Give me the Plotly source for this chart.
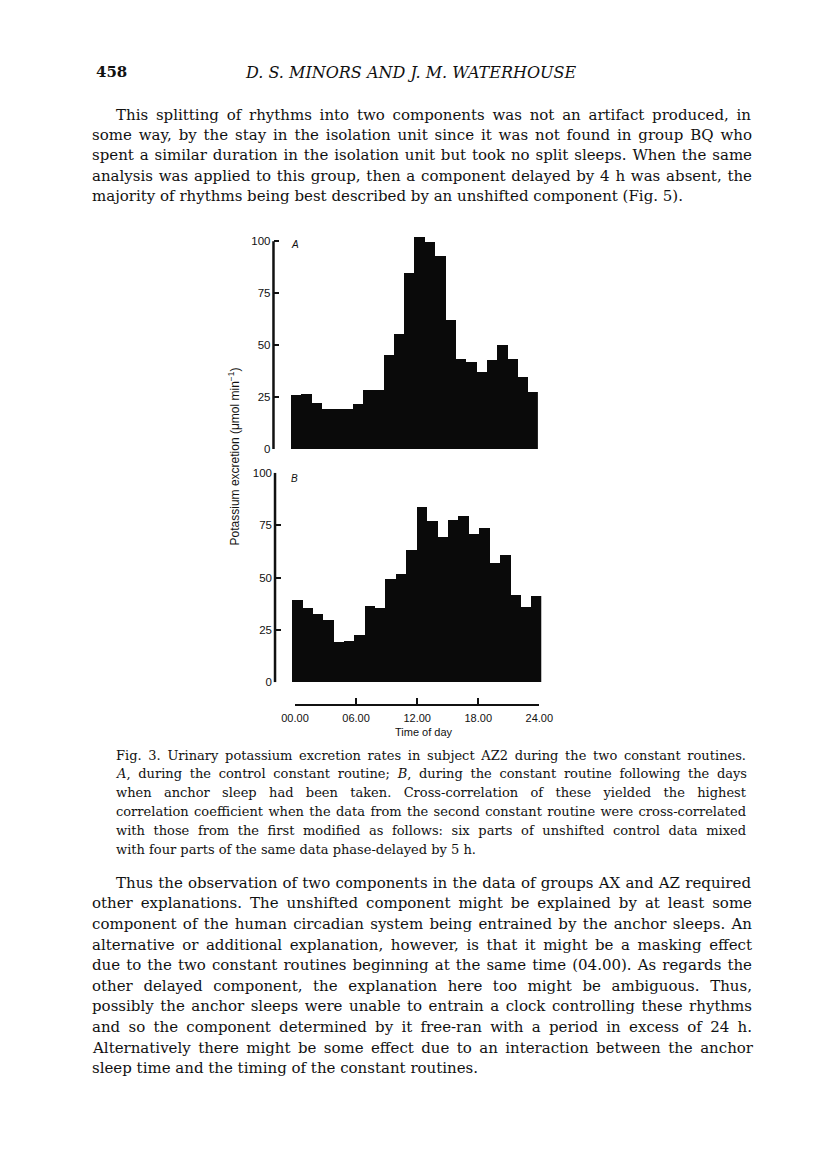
import json
import plotly.graph_objects as go

W, H = 816, 1160

# hourly samples over the constant routine
HOURS = [0, 1, 2, 3, 4, 5, 6, 7, 8, 9, 10, 11,
         12, 13, 14, 15, 16, 17, 18, 19, 20, 21, 22, 23]
EXCRETION_A = [26.2, 26.7, 22.4, 19.3, 19.2, 19.4, 21.8, 28.6, 28.6, 45.1, 55.4, 84.9,
               102.0, 99.8, 92.9, 62.2, 43.5, 41.9, 37.1, 43.0, 50.0, 43.6, 34.9, 27.5]
EXCRETION_B = [39.4, 35.6, 32.8, 29.9, 19.2, 19.8, 22.7, 36.5, 35.4, 49.4, 52.0, 63.0,
               83.9, 76.9, 69.4, 77.5, 79.5, 71.0, 73.5, 57.0, 61.0, 41.7, 36.2, 41.3]
Y_TICKS = [0, 25, 50, 75, 100]
TIME_TICKS = [0, 6, 12, 18, 24]
TIME_LABELS = ["00.00", "06.00", "12.00", "18.00", "24.00"]

PAGE_NO = "458"
RUNNING_HEAD = "D. S. MINORS AND J. M. WATERHOUSE"
PARA_1 = [
    "This splitting of rhythms into two components was not an artifact produced, in",
    "some way, by the stay in the isolation unit since it was not found in group BQ who",
    "spent a similar duration in the isolation unit but took no split sleeps. When the same",
    "analysis was applied to this group, then a component delayed by 4 h was absent, the",
    "majority of rhythms being best described by an unshifted component (Fig. 5).",
]
CAPTION = [
    "Fig. 3. Urinary potassium excretion rates in subject AZ2 during the two constant routines.",
    "<i>A</i>, during the control constant routine; <i>B</i>, during the constant routine following the days",
    "when anchor sleep had been taken. Cross-correlation of these yielded the highest",
    "correlation coefficient when the data from the second constant routine were cross-correlated",
    "with those from the first modified as follows: six parts of unshifted control data mixed",
    "with four parts of the same data phase-delayed by 5 h.",
]
PARA_2 = [
    "Thus the observation of two components in the data of groups AX and AZ required",
    "other explanations. The unshifted component might be explained by at least some",
    "component of the human circadian system being entrained by the anchor sleeps. An",
    "alternative or additional explanation, however, is that it might be a masking effect",
    "due to the two constant routines beginning at the same time (04.00). As regards the",
    "other delayed component, the explanation here too might be ambiguous. Thus,",
    "possibly the anchor sleeps were unable to entrain a clock controlling these rhythms",
    "and so the component determined by it free-ran with a period in excess of 24 h.",
    "Alternatively there might be some effect due to an interaction between the anchor",
    "sleep time and the timing of the constant routines.",
]

SERIF = "DejaVu Serif"
SANS = "Liberation Sans"
INK = "#111111"


def fx(x):
    return x / W


def fy(y):
    return 1 - y / H


annotations = []
justify = []  # [annotation index, target width in px]


def add_text(text, x, y, size, family=SERIF, xanchor="left", width=None, **kw):
    if width:
        justify.append([len(annotations), width])
    annotations.append(dict(
        text=text, x=fx(x), y=fy(y), xref="paper", yref="paper",
        xanchor=xanchor, yanchor="middle", align="left", showarrow=False,
        borderpad=0, font=dict(family=family, size=size, color=INK), **kw))


def add_paragraph(lines, top, step, size, left, right, indent):
    for i, line in enumerate(lines):
        x0 = left + (indent if i == 0 else 0)
        last = i == len(lines) - 1
        add_text(line, x0, top + i * step, size, width=None if last else right - x0)


add_text("<b>" + PAGE_NO + "</b>", 84, 67, 15)
add_text("<i>" + RUNNING_HEAD + "</i>", 411, 67, 16, xanchor="center")
add_paragraph(PARA_1, 110, 20.5, 15, 80, 740, 25)
add_paragraph(CAPTION, 757, 19, 13, 105, 735, 0)
add_paragraph(PARA_2, 886, 20.8, 15, 80, 740, 25)

# chart texts
add_text("<i>A</i>", 286, 241, 10, family=SANS)
add_text("<i>B</i>", 286, 477, 10, family=SANS)
add_text("Potassium excretion (\u03bcmol min<sup>\u22121</sup>)", 228, 455, 12,
         family=SANS, xanchor="center", textangle=-90)
add_text("Time of day", 425, 734, 11, family=SANS, xanchor="center")

A_ZERO, B_ZERO, PX_A, PX_B = 447.7, 683.3, 2.1, 2.116
A_TOP = 104
BAR_INK = "#0a0a0a"

fig = go.Figure()
fig.add_trace(go.Bar(x=HOURS, y=EXCRETION_A, width=1.04, xaxis="x", yaxis="y",
                     marker=dict(color=BAR_INK, line=dict(width=0)), hoverinfo="skip"))
fig.add_trace(go.Bar(x=HOURS, y=EXCRETION_B, width=1.04, xaxis="x2", yaxis="y2",
                     marker=dict(color=BAR_INK, line=dict(width=0)), hoverinfo="skip"))
# empty trace so the time-of-day axis gets its own subplot
fig.add_trace(go.Scatter(x=[], y=[], xaxis="x3", yaxis="y3", mode="lines", hoverinfo="skip"))

yax = dict(
    range=[0, 100], anchor="free", tickvals=Y_TICKS, ticks="inside", ticklen=5,
    tickwidth=2, tickcolor=INK, showline=False, showgrid=False, zeroline=False,
    tickfont=dict(family=SANS, size=11.5, color=INK), ticklabelstandoff=3,
)

fig.update_layout(
    width=W, height=H, autosize=False,
    margin=dict(l=0, r=0, t=0, b=0),
    paper_bgcolor="white", plot_bgcolor="rgba(0,0,0,0)",
    showlegend=False, bargap=0,
    xaxis=dict(domain=[fx(286.5), fx(542.5)], range=[-0.5, 23.5], visible=False,
               anchor="y", fixedrange=True),
    yaxis=dict(yax, domain=[fy(A_ZERO), fy(A_ZERO - A_TOP * PX_A)], range=[0, A_TOP],
               position=fx(268.7)),
    xaxis2=dict(domain=[fx(287.5), fx(546)], range=[-0.5, 23.5], visible=False,
                anchor="y2", fixedrange=True),
    yaxis2=dict(yax, domain=[fy(B_ZERO), fy(B_ZERO - 100 * PX_B)], position=fx(270.3)),
    xaxis3=dict(domain=[fx(291), fx(544)], range=[0, 24], anchor="y3",
                tickvals=TIME_TICKS, ticktext=TIME_LABELS, ticks="inside",
                ticklen=6, tickwidth=2, tickcolor=INK, showline=True, linewidth=2,
                linecolor=INK, showgrid=False, zeroline=False, ticklabelstandoff=2,
                tickfont=dict(family=SANS, size=11, color=INK)),
    yaxis3=dict(domain=[fy(705.7), fy(690)], range=[0, 1], visible=False),
    annotations=annotations,
    shapes=[
        dict(type="line", xref="paper", yref="y", x0=fx(268.7), x1=fx(268.7),
             y0=0, y1=100, line=dict(color=INK, width=2.5)),
        dict(type="line", xref="paper", yref="y2", x0=fx(270.3), x1=fx(270.3),
             y0=0, y1=100, line=dict(color=INK, width=2.5)),
    ],
)

# drop the page margin, then stretch word spacing so body lines come out justified
JUSTIFY_JS = """
document.body.style.margin = '0';
document.documentElement.style.overflow = 'hidden';
var gd = document.getElementById('{plot_id}');
var lines = %s;
lines.forEach(function (p) {
  var t = gd.querySelector('g.annotation[data-index="' + p[0] + '"] text.annotation-text');
  if (!t) return;
  var gaps = (t.textContent.match(/ /g) || []).length;
  if (!gaps) return;
  var w = t.getComputedTextLength();
  t.style.wordSpacing = ((p[1] - w) / gaps) + 'px';
});
""" % json.dumps(justify)

fig.write_html("out.html", post_script=JUSTIFY_JS, config=dict(displayModeBar=False))
